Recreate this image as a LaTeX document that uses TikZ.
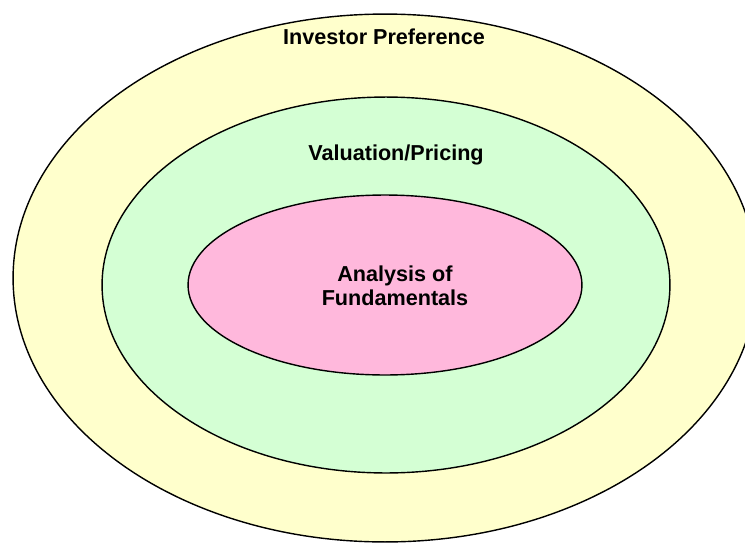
\documentclass[tikz,border=0pt]{standalone}
\usepackage{fontspec}
\setmainfont{Liberation Sans}
\usetikzlibrary{positioning,shapes.geometric}

\definecolor{outerfill}{HTML}{FFFFCC}
\definecolor{middlefill}{HTML}{D4FFD4}
\definecolor{innerfill}{HTML}{FFB8DC}

\begin{document}
\begin{tikzpicture}[
  x=0.02cm, y=-0.02cm,
  ring/.style={
    ellipse, draw, thick, inner sep=0pt,
  },
  lbl/.style={font=\bfseries\fontsize{12.3}{13.6}\selectfont, align=center, inner sep=1pt},
]

\useasboundingbox (0,0) rectangle (745,542);
\clip (0,0) rectangle (745,542);

\node[ring, fill=outerfill, minimum width=14.88cm, minimum height=10.56cm] (outer) at (385,278) {};
\node[ring, fill=middlefill, minimum width=11.36cm, minimum height=7.52cm] (middle) at (386,285) {};
\node[ring, fill=innerfill, minimum width=7.88cm, minimum height=3.6cm] (inner) at (385,285) {};

\node[lbl] (investor) at (384,37) {Investor Preference};
\node[lbl] (valuation) at (396,155) {Valuation/Pricing};
\node[lbl] (analysis) at (395,286) {Analysis of\\Fundamentals};

\end{tikzpicture}
\end{document}
